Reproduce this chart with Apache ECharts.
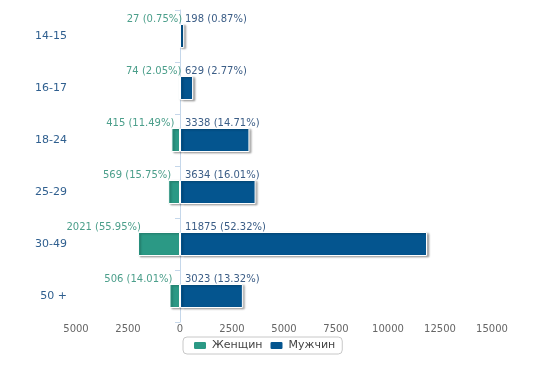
<!DOCTYPE html>
<html>
<head>
<meta charset="utf-8">
<script src="https://cdn.jsdelivr.net/npm/echarts@6/dist/echarts.min.js"></script>
<style>
  html, body { margin: 0; padding: 0; background: #fff; }
  #chart { width: 542px; height: 365px; }
</style>
</head>
<body>
<div id="chart"></div>
<script>
// age groups, top to bottom
const ageGroups = ['14-15', '16-17', '18-24', '25-29', '30-49', '50 +'];
const women = [27, 74, 415, 569, 2021, 506];
const womenPct = ['0.75', '2.05', '11.49', '15.75', '55.95', '14.01'];
const men = [198, 629, 3338, 3634, 11875, 3023];
const menPct = ['0.87', '2.77', '14.71', '16.01', '52.32', '13.32'];

const chartDom = document.getElementById('chart');
const myChart = echarts.init(chartDom);

const barStyle = {
    borderColor: '#ffffff',
    borderWidth: 1,
    shadowColor: 'rgba(0,0,0,0.3)',
    shadowBlur: 2,
    shadowOffsetX: 2,
    shadowOffsetY: 1
};

const option = {
    animation: false,
    textStyle: { fontFamily: 'DejaVu Sans' },
    grid: {
        left: 76,
        right: 50,
        top: 10,
        bottom: 43
    },
    legend: {
        bottom: 11,
        left: 183,
        itemWidth: 14,
        itemHeight: 9,
        itemGap: 6,
        padding: [3, 7, 3, 9],
        borderColor: '#c8c8c8',
        borderWidth: 1,
        borderRadius: 4,
        textStyle: { fontSize: 11, color: '#444' },
        data: ['Женщин', 'Мужчин']
    },
    xAxis: {
        type: 'value',
        min: -5000,
        max: 15000,
        interval: 2500,
        axisLine: { show: false },
        axisTick: { show: false },
        splitLine: { show: false },
        axisLabel: {
            fontSize: 10,
            color: '#666',
            margin: 2,
            formatter: v => String(Math.abs(v))
        }
    },
    yAxis: {
        type: 'category',
        inverse: true,
        data: ageGroups,
        axisLine: { lineStyle: { color: '#c5d7ea', width: 1 } },
        axisTick: { show: true, length: 5, lineStyle: { color: '#c5d7ea' } },
        axisLabel: {
            fontSize: 11,
            color: '#2f5f8f',
            margin: 9
        }
    },
    series: [
        {
            name: 'Женщин',
            type: 'bar',
            stack: 'total',
            barWidth: 24,
            data: women.map(v => -v),
            itemStyle: Object.assign({ color: '#2b9985' }, barStyle),
            label: {
                show: true,
                position: 'left',
                distance: -3,
                offset: [0, -17],
                fontSize: 10,
                color: '#4c9f8b',
                formatter: p => women[p.dataIndex] + ' (' + womenPct[p.dataIndex] + '%)'
            }
        },
        {
            name: 'Мужчин',
            type: 'bar',
            stack: 'total',
            barWidth: 24,
            data: men,
            itemStyle: Object.assign({ color: '#04558f' }, barStyle),
            label: {
                show: true,
                position: 'insideLeft',
                distance: 5,
                offset: [0, -17],
                fontSize: 10,
                color: '#3b5d86',
                formatter: p => men[p.dataIndex] + ' (' + menPct[p.dataIndex] + '%)'
            }
        }
    ]
};

myChart.setOption(option);
</script>
</body>
</html>
